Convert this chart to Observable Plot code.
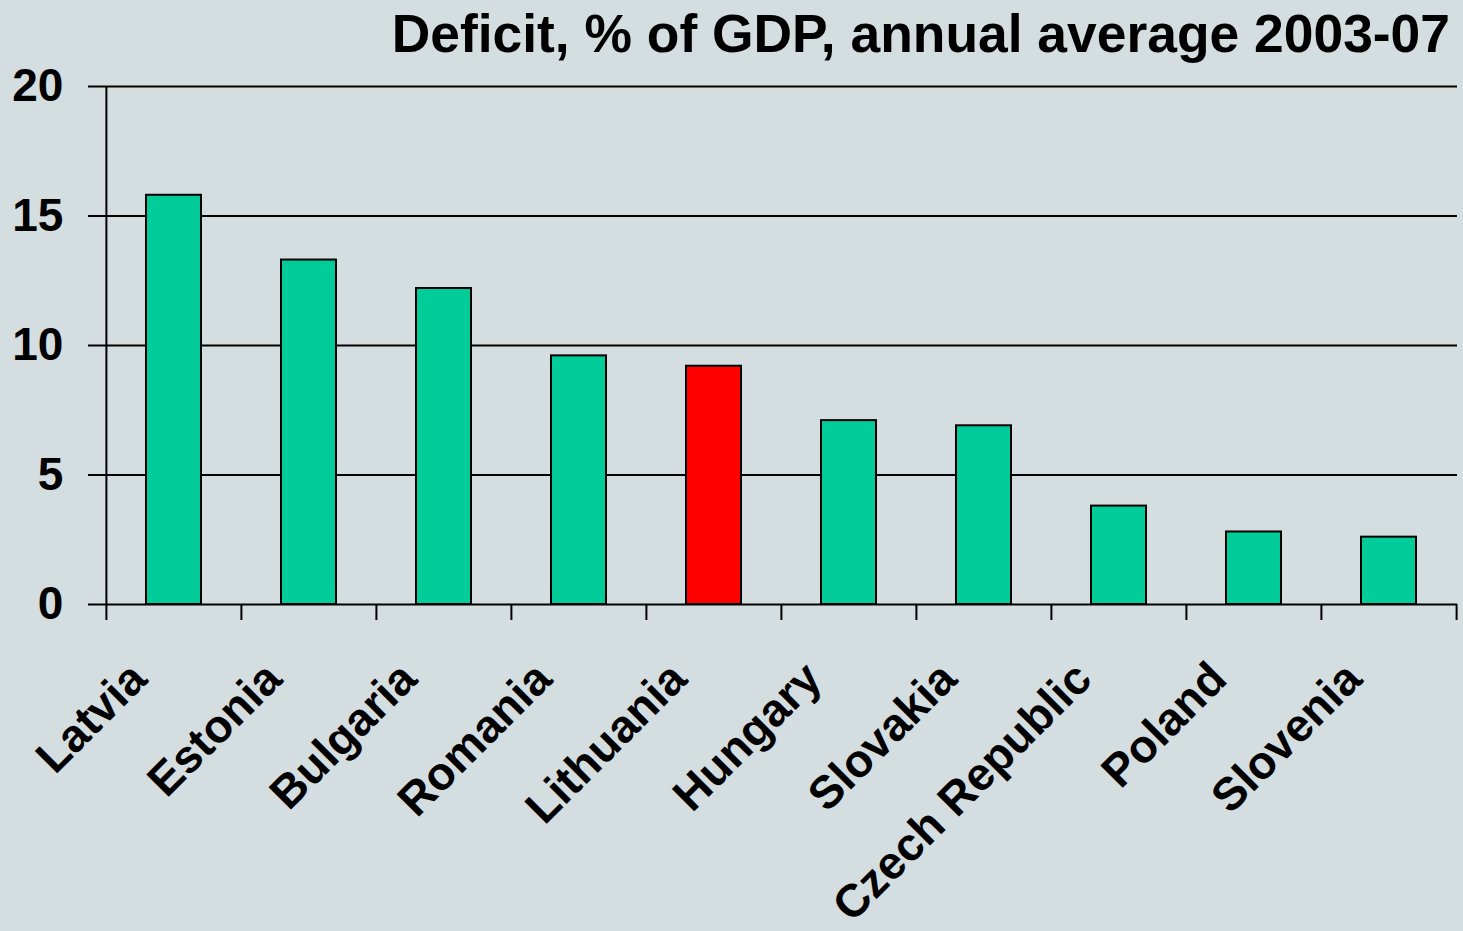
<!DOCTYPE html>
<html>
<head>
<meta charset="utf-8">
<script src="https://cdn.jsdelivr.net/npm/d3@7"></script>
<script src="https://cdn.jsdelivr.net/npm/@observablehq/plot@0.6"></script>
<style>
  html, body { margin: 0; padding: 0; background: #d4dddf; }
  #title {
    box-sizing: border-box;
    height: 58px;
    padding-top: 7px;
    padding-right: 13px;
    text-align: right;
    font: bold 53.4px "Liberation Sans", Arial, sans-serif;
    line-height: 53px;
    color: #000;
    white-space: nowrap;
  }
  svg { display: block; }
</style>
</head>
<body>
<div id="title">Deficit, % of GDP, annual average 2003-07</div>
<div id="chart"></div>
<script>
const countries = ["Latvia", "Estonia", "Bulgaria", "Romania", "Lithuania", "Hungary", "Slovakia", "Czech Republic", "Poland", "Slovenia"];
const deficit = [15.8, 13.3, 12.2, 9.6, 9.2, 7.1, 6.9, 3.8, 2.8, 2.6];
const highlighted = "Lithuania";
const yTicks = [0, 5, 10, 15, 20];
const yDomain = [0, 20];

const data = countries.map((c, i) => ({country: c, value: deficit[i]}));

const width = 1463, height = 873;
const marginLeft = 105, marginRight = 6, marginTop = 28, marginBottom = 327;
const step = (width - marginLeft - marginRight) / countries.length;
const pxPerUnit = (height - marginTop - marginBottom) / (yDomain[1] - yDomain[0]);
const tickLenUnits = 16 / pxPerUnit;
const font = "'Liberation Sans', Arial, sans-serif";

const chart = Plot.plot({
  width, height, marginLeft, marginRight, marginTop, marginBottom,
  style: {background: "transparent", fontFamily: font, fontWeight: "bold", color: "#000"},
  x: {domain: countries, paddingInner: 0.593, paddingOuter: 0.2965, axis: null},
  y: {domain: yDomain, axis: null},
  marks: [
    // gridlines (extend left as tick marks)
    Plot.ruleY(yTicks, {stroke: "#000", strokeWidth: 2, insetLeft: -17}),
    // y axis line
    Plot.ruleX([countries[0]], {x: d => d, dx: -step / 2, y1: yDomain[1], y2: -tickLenUnits, stroke: "#000", strokeWidth: 2}),
    // category boundary ticks
    Plot.ruleX(countries.slice(1), {x: d => d, dx: -step / 2, y1: 0, y2: -tickLenUnits, stroke: "#000", strokeWidth: 2}),
    Plot.ruleX([countries[countries.length - 1]], {x: d => d, dx: step / 2, y1: 0, y2: -tickLenUnits, stroke: "#000", strokeWidth: 2}),
    // bars
    Plot.barY(data, {x: "country", y: "value", fill: d => d.country === highlighted ? "#ff0000" : "#00cc99", stroke: "#000", strokeWidth: 2}),
    // y tick labels
    Plot.text(yTicks, {x: () => countries[0], y: d => d, text: d => String(d), dx: -step / 2 - 43, textAnchor: "end", fontSize: 46, fontWeight: "bold", fill: "#000"}),
    // x category labels
    Plot.text(countries, {x: d => d, y: () => 0, text: d => d, rotate: -45, textAnchor: "end", lineAnchor: "bottom", dx: -25, dy: 77, fontSize: 46, fontWeight: "bold", fill: "#000"})
  ]
});
document.getElementById("chart").appendChild(chart);
</script>
</body>
</html>
